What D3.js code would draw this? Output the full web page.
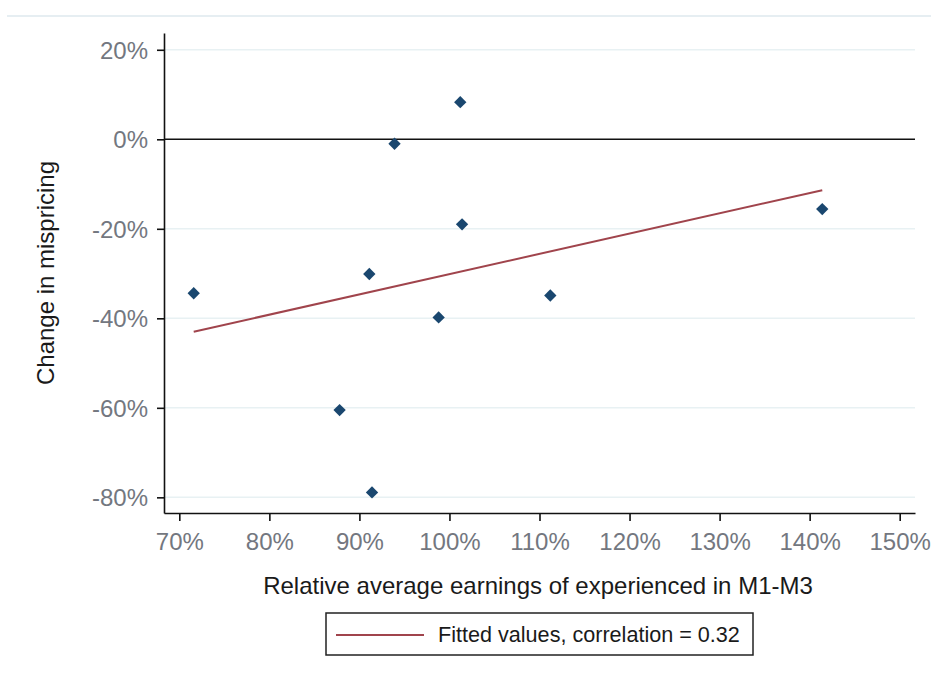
<!DOCTYPE html>
<html>
<head>
<meta charset="utf-8">
<script src="https://cdn.jsdelivr.net/npm/d3@7"></script>
<style>
  html, body { margin: 0; padding: 0; background: #fff; }
  svg { display: block; font-family: "Liberation Sans", Arial, sans-serif; }
</style>
</head>
<body>
<svg id="chart" width="931" height="681"></svg>
<script>
// Relative average earnings of experienced traders (M1-M3), in %
const earnings = [71.6, 87.8, 91.1, 91.4, 93.9, 98.8, 101.2, 101.4, 111.2, 141.4];
// Change in mispricing, in %
const mispricing = [-34.4, -60.5, -30.1, -78.9, -1.0, -39.8, 8.3, -19.0, -34.9, -15.6];

const xTicks = [70, 80, 90, 100, 110, 120, 130, 140, 150];
const yTicks = [20, 0, -20, -40, -60, -80];
const xTitle = "Relative average earnings of experienced in M1-M3";
const yTitle = "Change in mispricing";
const legendLabel = "Fitted values, correlation = 0.32";

const navy = "#1a476f";
const maroon = "#a0444c";
const tickGray = "#737780";
const gridColor = "#e8f1f3";

const svg = d3.select("#chart");

const plot = { left: 164, right: 915, top: 33, bottom: 513 };

const x = d3.scaleLinear().domain([68.3, 151.7]).range([plot.left, plot.right]);
const y = d3.scaleLinear().domain([-83.5, 23.75]).range([plot.bottom, plot.top]);

// thin rule across the top of the graph region
svg.append("line")
  .attr("x1", 7).attr("x2", 931).attr("y1", 16).attr("y2", 16)
  .attr("stroke", "#e6eef2").attr("stroke-width", 2);

// horizontal grid lines (zero gets a solid reference line)
svg.append("g").selectAll("line")
  .data(yTicks.filter(d => d !== 0))
  .join("line")
  .attr("x1", plot.left).attr("x2", plot.right)
  .attr("y1", d => y(d)).attr("y2", d => y(d))
  .attr("stroke", gridColor).attr("stroke-width", 1.5);

svg.append("line")
  .attr("x1", plot.left).attr("x2", plot.right)
  .attr("y1", y(0)).attr("y2", y(0))
  .attr("stroke", "#111").attr("stroke-width", 1.5);

// axes
const yAxis = d3.axisLeft(y).tickValues(yTicks).tickFormat(d => d + "%")
  .tickSize(7).tickSizeOuter(0).tickPadding(9);
const xAxis = d3.axisBottom(x).tickValues(xTicks).tickFormat(d => d + "%")
  .tickSize(8).tickSizeOuter(0).tickPadding(12);

const gy = svg.append("g").attr("transform", `translate(${plot.left},0)`).call(yAxis);
const gx = svg.append("g").attr("transform", `translate(0,${plot.bottom})`).call(xAxis);

[gx, gy].forEach(g => {
  g.select(".domain").attr("stroke", "#111").attr("stroke-width", 1.6);
  g.selectAll(".tick line").attr("stroke", "#111").attr("stroke-width", 1.6);
  g.selectAll(".tick text")
    .attr("fill", tickGray)
    .style("font-size", "24px")
    .style("font-family", "'Liberation Sans', Arial, sans-serif");
});
gy.selectAll(".tick text").attr("dy", "0.36em");

// least-squares fitted line over the observed range
const mx = d3.mean(earnings), my = d3.mean(mispricing);
const sxy = d3.sum(earnings, (v, i) => (v - mx) * (mispricing[i] - my));
const sxx = d3.sum(earnings, v => (v - mx) ** 2);
const slope = sxy / sxx, intercept = my - slope * mx;
const fitPts = d3.extent(earnings).map(v => [v, intercept + slope * v]);

svg.append("path")
  .datum(fitPts)
  .attr("d", d3.line().x(d => x(d[0])).y(d => y(d[1])))
  .attr("fill", "none")
  .attr("stroke", maroon)
  .attr("stroke-width", 2);

// diamond markers
const diamond = d3.symbol().type(d3.symbolSquare).size(76);
svg.append("g").selectAll("path")
  .data(earnings.map((v, i) => [v, mispricing[i]]))
  .join("path")
  .attr("d", diamond)
  .attr("transform", d => `translate(${x(d[0])},${y(d[1])}) rotate(45)`)
  .attr("fill", navy);

// axis titles
svg.append("text")
  .attr("x", 538)
  .attr("y", 594)
  .attr("text-anchor", "middle")
  .attr("fill", "#1a1a1a")
  .style("font-size", "24px")
  .text(xTitle);

svg.append("text")
  .attr("transform", `translate(54,${(plot.top + plot.bottom) / 2}) rotate(-90)`)
  .attr("text-anchor", "middle")
  .attr("fill", "#1a1a1a")
  .style("font-size", "24px")
  .text(yTitle);

// legend
const lg = svg.append("g");
lg.append("rect")
  .attr("x", 326).attr("y", 613).attr("width", 427).attr("height", 42)
  .attr("fill", "#fff").attr("stroke", "#222").attr("stroke-width", 1.5);
lg.append("line")
  .attr("x1", 336).attr("x2", 424).attr("y1", 635).attr("y2", 635)
  .attr("stroke", maroon).attr("stroke-width", 2);
lg.append("text")
  .attr("x", 438).attr("y", 642)
  .attr("fill", "#1a1a1a")
  .style("font-size", "21.6px")
  .text(legendLabel);
</script>
</body>
</html>
